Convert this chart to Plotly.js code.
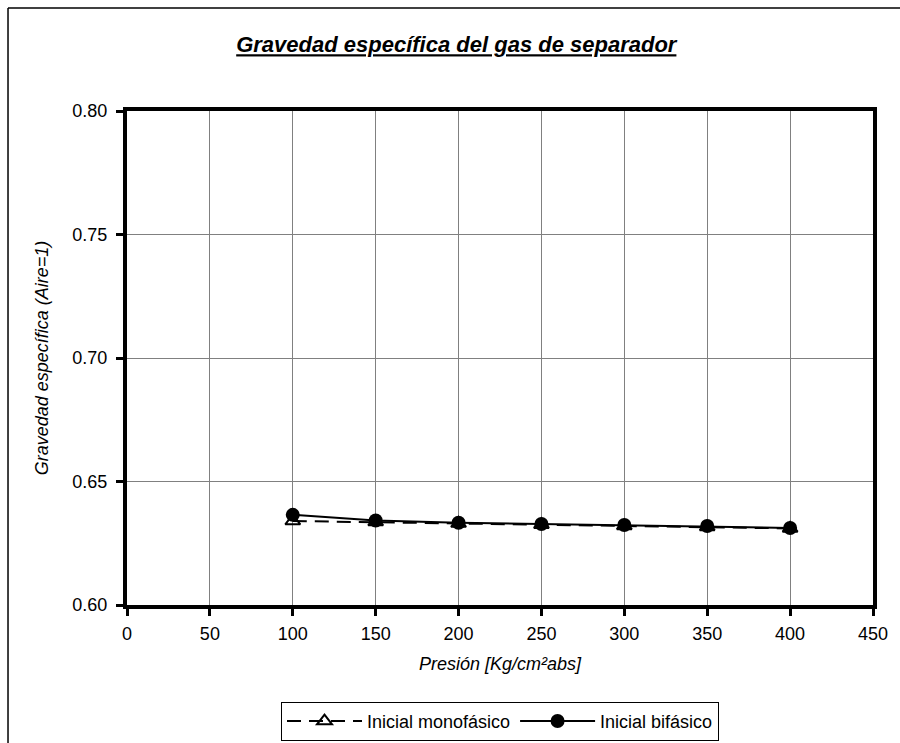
<!DOCTYPE html>
<html>
<head>
<meta charset="utf-8">
<script src="https://cdn.plot.ly/plotly-3.0.1.min.js"></script>
<style>html,body{margin:0;padding:0;background:#fff;}#chart{width:900px;height:743px;}</style>
</head>
<body>
<div id="chart"></div>
<script>
var presion = [100, 150, 200, 250, 300, 350, 400];
var monofasico = [0.6340, 0.6336, 0.6330, 0.6325, 0.6320, 0.6316, 0.6310];
var bifasico = [0.6365, 0.6342, 0.6333, 0.6328, 0.6324, 0.6320, 0.6312];
var xTicks = [0, 50, 100, 150, 200, 250, 300, 350, 400, 450];
var yTicks = [0.60, 0.65, 0.70, 0.75, 0.80];

var font = 'Liberation Sans, Arial, sans-serif';

var traces = [
  {
    x: presion, y: monofasico, name: 'Inicial monofásico', type: 'scatter', mode: 'lines+markers',
    line: {color: '#000', width: 2, dash: '14px,8px'},
    marker: {symbol: 'triangle-up-open', size: 13, color: '#000', line: {color: '#000', width: 2}}
  },
  {
    x: presion, y: bifasico, name: 'Inicial bifásico', type: 'scatter', mode: 'lines+markers',
    line: {color: '#000', width: 2},
    marker: {symbol: 'circle', size: 14, color: '#000'}
  }
];

var layout = {
  width: 900, height: 743,
  margin: {l: 127, r: 27, t: 111, b: 138, autoexpand: false},
  paper_bgcolor: '#fff', plot_bgcolor: '#fff',
  font: {family: font, size: 18, color: '#000'},
  title: {
    text: '<b><i><u>Gravedad específica del gas de separador</u></i></b>',
    font: {family: font, size: 22, color: '#000'},
    x: 0.507, xanchor: 'center', y: 0.94, yanchor: 'middle'
  },
  xaxis: {
    range: [0, 450], tickvals: xTicks, ticktext: xTicks.map(String),
    showgrid: true, gridcolor: '#808080', gridwidth: 1,
    showline: true, linecolor: '#000', linewidth: 4, mirror: true,
    ticks: 'outside', ticklen: 7, tickwidth: 3, tickcolor: '#000',
    ticklabelstandoff: 2,
    zeroline: false,
    tickfont: {family: font, size: 18, color: '#000'},
    title: {text: '<i>Presión [Kg/cm²abs]</i>', font: {family: font, size: 18, color: '#000'}, standoff: 16}
  },
  yaxis: {
    range: [0.60, 0.80], tickvals: yTicks, ticktext: yTicks.map(function(v){return v.toFixed(2);}),
    showgrid: true, gridcolor: '#808080', gridwidth: 1,
    showline: true, linecolor: '#000', linewidth: 4, mirror: true,
    ticks: 'outside', ticklen: 7, tickwidth: 3, tickcolor: '#000',
    ticklabelstandoff: 5,
    zeroline: false,
    tickfont: {family: font, size: 18, color: '#000'},
    title: {text: '<i>Gravedad específica (Aire=1)</i>', font: {family: font, size: 18, color: '#000'}, standoff: 20}
  },
  showlegend: true,
  legend: {
    orientation: 'h', x: 0.5, xanchor: 'center', y: -0.196, yanchor: 'top',
    bordercolor: '#000', borderwidth: 1, bgcolor: '#fff',
    font: {family: font, size: 18, color: '#000'},
    itemwidth: 75, tracegroupgap: 0
  },
  shapes: [
    {type: 'line', xref: 'paper', yref: 'paper', x0: -0.1595, x1: -0.1595, y0: 1.2085, y1: -0.30, line: {color: '#000', width: 1.5}},
    {type: 'line', xref: 'paper', yref: 'paper', x0: -0.1595, x1: 1.05, y0: 1.2085, y1: 1.2085, line: {color: '#000', width: 1.5}}
  ]
};

Plotly.newPlot('chart', traces, layout, {displayModeBar: false, staticPlot: true});
</script>
</body>
</html>
